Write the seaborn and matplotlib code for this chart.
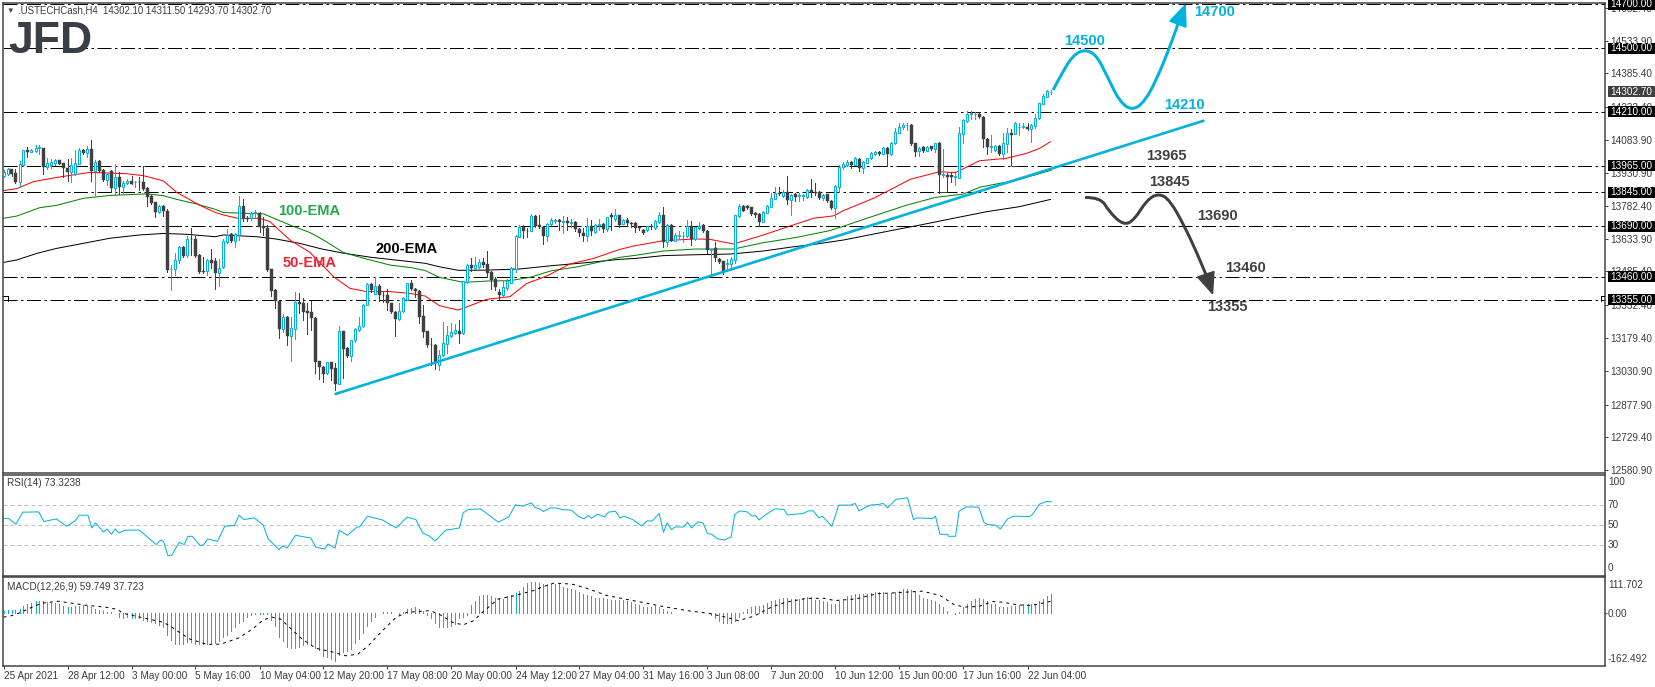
import numpy as np
import seaborn as sns
import matplotlib
matplotlib.use('Agg')
import matplotlib.pyplot as plt
from matplotlib.path import Path
from matplotlib.patches import PathPatch, Rectangle

# OHLC candles
open_ = [13919,13928,13949,13931,13893,13969,14035,14029,14034,14046,
14046,13961,13969,13976,13990,13978,13955,13938,13928,13973,
14037,14025,14041,13943,13985,13946,13902,13943,13865,13914,
13870,13888,13894,13890,13891,13891,13862,13829,13800,13755,
13782,13759,13493,13493,13538,13595,13557,13633,13632,13559,
13484,13484,13534,13533,13479,13503,13620,13655,13624,13650,
13782,13726,13726,13749,13752,13691,13680,13494,13400,13351,
13222,13278,13192,13224,13343,13339,13304,13299,13272,13075,
13047,13020,13070,13043,12973,13213,13135,13101,13172,13217,
13234,13333,13427,13381,13416,13377,13377,13339,13299,13269,
13302,13356,13431,13406,13394,13281,13211,13150,13150,13059,
13103,13153,13190,13203,13211,13202,13434,13511,13499,13505,
13527,13516,13480,13448,13390,13376,13408,13433,13493,13642,
13684,13669,13669,13736,13694,13688,13647,13700,13715,13718,
13709,13713,13706,13709,13678,13660,13647,13691,13665,13694,
13700,13677,13742,13721,13739,13701,13718,13706,13703,13685,
13673,13671,13692,13683,13709,13741,13618,13696,13624,13647,
13645,13647,13692,13632,13680,13696,13670,13582,13589,13542,
13530,13516,13519,13536,13737,13782,13782,13776,13752,13746,
13711,13752,13779,13815,13840,13829,13846,13809,13837,13828,
13828,13825,13855,13847,13847,13817,13835,13806,13773,13870,
13958,13967,13982,13970,13997,13955,13979,14002,14020,14028,
14020,14047,14019,14067,14116,14140,14149,14152,14067,14031,
14049,14034,14053,14041,14070,13923,13924,13921,13915,13911,
14111,14170,14201,14199,14201,14189,14087,14052,14037,14056,
14020,14064,14114,14111,14140,14140,14143,14131,14148,14181,
14246,14280,14302.1]
close_ = [13937,13952,13928,13891,13973,14035,14029,14037,14046,14049,
13961,13978,13982,13990,13973,13953,13937,13969,13978,14037,
14025,14041,13943,13982,13941,13900,13929,13865,13914,13870,
13887,13896,13884,13891,13890,13859,13824,13796,13755,13782,
13758,13490,13495,13536,13595,13556,13632,13630,13554,13483,
13483,13534,13522,13479,13498,13623,13650,13623,13655,13782,
13726,13724,13749,13755,13688,13680,13491,13395,13350,13220,
13278,13192,13225,13343,13336,13301,13296,13271,13072,13047,
13019,13070,13040,12972,13211,13132,13101,13170,13224,13236,
13333,13427,13400,13416,13375,13375,13339,13301,13269,13304,
13365,13431,13406,13394,13278,13210,13150,13149,13065,13102,
13156,13194,13206,13215,13200,13439,13511,13498,13511,13527,
13513,13478,13445,13414,13376,13411,13439,13498,13645,13684,
13669,13668,13736,13691,13688,13647,13700,13718,13718,13709,
13713,13703,13709,13675,13657,13647,13692,13666,13694,13700,
13678,13730,13730,13739,13695,13716,13706,13700,13683,13680,
13661,13691,13685,13714,13741,13620,13696,13624,13648,13648,
13647,13691,13633,13685,13692,13668,13582,13586,13544,13527,
13483,13524,13539,13740,13782,13761,13774,13744,13741,13711,
13755,13782,13818,13840,13837,13846,13809,13832,13825,13832,
13832,13855,13847,13843,13818,13831,13803,13774,13873,13961,
13973,13981,13967,14000,13955,13982,13999,14023,14029,14019,
14047,14019,14070,14119,14140,14149,14152,14064,14029,14047,
14031,14050,14040,14067,13923,13927,13915,13915,13918,14113,
14172,14201,14204,14201,14187,14085,14052,14055,14055,14019,
14067,14113,14107,14158,14143,14146,14134,14151,14182,14249,
14283,14305,14302.7]
high_ = [13946,13956,13952,13949,13988,14037,14052,14043,14061,14058,
14048,13999,13997,13996,13991,13979,13997,13999,14037,14045,
14041,14055,14082,13991,13991,13949,13934,13946,13973,13937,
13897,13903,13920,13897,13915,13964,13867,13830,13802,13785,
13788,13767,13513,13569,13598,13598,13645,13680,13645,13563,
13551,13539,13584,13544,13542,13630,13676,13661,13661,13828,
13813,13737,13755,13764,13753,13734,13697,13497,13403,13354,
13290,13281,13278,13390,13387,13365,13342,13351,13275,13076,
13053,13073,13073,13069,13236,13214,13138,13172,13225,13275,
13336,13430,13433,13457,13425,13390,13403,13342,13302,13339,
13366,13433,13445,13410,13400,13331,13214,13179,13153,13126,
13253,13235,13250,13244,13263,13440,13516,13546,13551,13539,
13545,13577,13487,13460,13402,13445,13448,13502,13648,13695,
13697,13681,13744,13739,13741,13691,13706,13726,13724,13721,
13736,13733,13721,13715,13681,13680,13726,13718,13700,13721,
13706,13733,13748,13766,13742,13721,13726,13709,13711,13688,
13676,13692,13700,13718,13753,13779,13699,13699,13658,13668,
13665,13718,13715,13688,13711,13699,13673,13588,13620,13545,
13533,13539,13548,13741,13791,13785,13787,13779,13756,13749,
13758,13787,13840,13867,13867,13855,13919,13837,13840,13840,
13837,13858,13907,13885,13850,13835,13838,13809,13876,13970,
13984,13991,13985,14003,14000,13985,14002,14026,14034,14031,
14050,14052,14073,14135,14158,14158,14161,14155,14070,14052,
14055,14053,14056,14070,14073,14040,13934,13937,13934,14140,
14176,14213,14213,14210,14211,14192,14090,14105,14060,14060,
14113,14135,14131,14163,14158,14161,14161,14155,14201,14252,
14290,14310,14311.5]
low_ = [13915,13923,13919,13888,13873,13967,14004,14029,14026,14019,
13928,13949,13953,13970,13972,13912,13896,13893,13923,13972,
14019,14007,13897,13833,13938,13897,13878,13847,13835,13835,
13840,13882,13881,13867,13855,13856,13782,13791,13733,13748,
13736,13481,13399,13468,13524,13551,13548,13557,13551,13478,
13475,13466,13501,13403,13419,13498,13612,13620,13597,13627,
13715,13715,13718,13726,13664,13650,13488,13372,13316,13183,
13210,13149,13076,13176,13296,13263,13198,13217,13020,12993,
12982,13017,12990,12944,12972,12997,13096,13076,13164,13214,
13230,13330,13392,13380,13351,13345,13308,13296,13192,13263,
13298,13354,13400,13369,13248,13187,13141,13058,13038,13035,
13099,13114,13187,13199,13156,13199,13433,13486,13496,13499,
13505,13457,13404,13399,13358,13369,13399,13429,13481,13639,
13636,13639,13668,13685,13680,13610,13624,13695,13703,13672,
13660,13672,13685,13669,13645,13624,13624,13650,13657,13672,
13665,13669,13672,13715,13688,13698,13691,13685,13664,13673,
13655,13668,13677,13679,13703,13594,13600,13621,13621,13635,
13620,13642,13604,13627,13676,13665,13570,13468,13532,13521,
13472,13491,13498,13524,13733,13758,13770,13740,13733,13691,
13708,13749,13776,13812,13832,13825,13791,13743,13806,13806,
13809,13818,13825,13832,13815,13809,13800,13767,13729,13846,
13952,13964,13955,13967,13943,13934,13976,13997,14012,14016,
14017,13964,14016,14064,14113,14131,14128,14058,14009,14009,
14028,14031,14037,14028,13839,13912,13849,13891,13879,13909,
14070,14166,14176,14179,14182,14049,14017,14028,14032,14016,
13994,14028,13967,14108,14105,14135,14128,14075,14135,14176,
14245,14278,14293.7]

# moving averages (bar index, price)
ema50_x = [0,3.3,7.5,13.3,21.6,30.8,35,40,43.3,49,52.9,55,59,64,66.6,71.6,76.6,82.5,86.6,90.8,96.6,101.6,105.4,
           109,113.7,120.8,126.6,130.8,135.8,141.6,147.5,154,157.9,165,173,176.6,182.5,190,197.5,202.5,207.5,
           210,217.5,221.6,226.6,234,238,244,250.7,255.8,259,261.8]
ema50_y = [13852,13861,13893,13912,13935,13929,13920,13896,13844,13786,13753,13741,13724,13726,13711,13627,13571,13460,13407,13392,13392,13384,13372,
           13328,13308,13357,13369,13429,13463,13518,13543,13584,13601,13624,13632,13630,13609,13650,13696,13726,13737,
           13761,13817,13855,13903,13938,13934,13988,13999,14022,14044,14075]
ema100_x = [0,3.3,9,13.3,20,26.6,35.8,40,43.3,48.3,52.9,55,65,67.6,72.6,76.6,80,85,90,96.6,102,105.4,
            109,115,120.8,126.6,131.6,137,143.5,149.3,154,157.9,165,173,182.5,190,198,206.6,210,
            217.5,225.8,233,239.9,244,249,252,262]
ema100_y = [13726,13736,13774,13785,13817,13830,13837,13829,13812,13791,13767,13752,13746,13726,13688,13661,13627,13570,13544,13513,13501,13488,
            13457,13434,13440,13442,13457,13487,13505,13528,13548,13557,13577,13586,13586,13615,13638,13670,13690,
            13736,13786,13821,13836,13867,13885,13893,13945]
ema200_x = [0,3.3,8.3,13.3,20,26.6,34,40,45.8,52.9,55,63.3,68,74,79.6,85,92,98,105.4,
            109,113.7,120.8,129,137,145.8,154,157.9,165,173,181.6,190,196.6,203.3,210,
            223.3,229.1,237.5,245.8,254,261.8]
ema200_y = [13525,13536,13566,13589,13612,13635,13650,13657,13653,13642,13650,13642,13632,13612,13586,13567,13548,13536,13521,
            13505,13489,13490,13495,13510,13524,13539,13543,13556,13560,13563,13577,13594,13609,13627,
            13675,13695,13726,13756,13779,13812]

levels = [14700, 14500, 14210, 13965, 13845, 13690, 13460, 13355]
last_price = 14302.70
main_ticks = [14682.40,14533.90,14385.40,14233.40,14083.90,13930.90,13782.40,13633.90,13485.40,13332.40,
              13179.40,13030.90,12877.90,12729.40,12580.90]

# forecast drawings and support line
trend_x = [83, 300]
trend_y = [12926, 14170]
up_x = [262.4,264.8,267.5,270.3,273.2,275.8,279,282.2,285.3,288.4,291.6,293.6]
up_y = [14310,14394,14470,14495,14470,14378,14257,14216,14257,14363,14507,14610]
up_tip = (295.6, 14705)
down_x = [270.4,274.3,276.4,280,282.7,285.8,288.8,291.6,295.3,298.4,300.6]
down_y = [13821,13821,13756,13694,13718,13809,13840,13809,13688,13566,13470]
down_tip = (302.4, 13375)
level_stubs = [(234, 236, 13845), (252, 253.5, 13965), (65, 67.5, 13690)]

# RSI(14)
rsi_x = [0,1.3,3.1,4.8,8.8,10.1,13.2,15.8,18,18.9,21.1,22.1,23,25,25.9,27,27.9,28.9,30.3,33.9,38.2,39.3,40,41.1,42.1,43.9,45.2,46.1,47.2,49.1,50,51,53.5,55.3,57.7,58.9,60.1,62.7,64.9,66.2,68.9,69.7,70.9,73,76.8,78.1,80.3,81.1,82.9,83.9,86,88.4,89,91,94.7,98.2,100.9,103.1,104.8,106.6,107.9,110.5,114,114.9,116.2,119.3,123.7,126.3,128,129.8,132,132.9,
         134.1,135,136.7,138.5,139.4,142,143.7,145.1,146.2,147,148.6,150.3,151.2,153,154.1,155.2,157.3,159.5,160.9,162.2,163.9,165,165.9,167,167.9,170.1,171,172,173.6,174.9,176,177.1,178.4,180.2,181.9,182.8,184.1,185.9,187.2,188,188.9,190.7,192.9,195.1,196,199.9,201.2,202.5,203.8,204.7,207.1,208.8,211.7,212.9,213.9,216.6,218.8,219.9,221,223.1,226,227.5,228.4,232.3,233,234.1,235.9,236.3,238,238.9,240.7,243.8,245.1,246,248.1,249.2,251,252.5,256.5,257.3,259,260.8,262]
rsi_y = [56.7,56.7,51,63,63.3,53.7,56.3,49,54.7,60,60,47.3,52.3,43.3,46.3,41,46.3,42.3,45,45.3,30.7,35.3,34,19.7,20.3,33,30.7,39,39,30,30.3,36.3,34,49,49.7,60,55.7,57.3,50.3,36.3,25.7,29.7,27.3,40,37.3,28.3,26.3,31.3,27.3,45,40,48.3,48.3,59,55.3,47.3,58,55.7,42.3,39,34.3,45,47.3,62.3,65.7,66.3,53,58.3,70.3,69,72.3,67.7,
         66.3,63.7,67.3,67,65.7,65,59,56.3,59.7,57,61,58.3,63,64,57.3,59,55.7,49.3,54.3,54.3,61.7,43,52.3,45.7,48.3,48.3,53,47.3,53.3,52.3,41.7,41,36.7,35.3,38.3,60.7,64.3,63.3,59,59.7,55.3,61,66.3,65.7,60.3,61.7,64.3,64.3,57.3,59,49,70,70,71.7,64.3,70,70.7,71.7,67.3,75.7,77.3,55.7,57.3,56.7,59,41,41,39,39,64,68.3,68,53,50.7,50,46.3,56.3,59,58.7,61,71,73.7,73.3]
rsi_levels = [70, 50, 30]

# MACD(12,26,9)
macd_hist = [6,10,10,10,14,21,29,33,37,39,
37,35,33,31,27,21,19,19,21,23,
25,23,19,12,10,6,4,3,2,-10,
-14,-12,-14,-14,-16,-21,-23,-27,-31,-37,
-41,-68,-82,-95,-95,-95,-89,-89,-95,-95,
-95,-95,-93,-91,-84,-72,-68,-54,-43,-31,
-23,-12,-6,-2,-2,-2,-2,-21,-39,-72,
-87,-103,-108,-108,-103,-98,-95,-98,-108,-113,
-132,-136,-140,-146,-129,-118,-115,-109,-93,-80,
-60,-39,-25,-10,0,4,4,4,2,-2,
5,14,16,19,12,8,-4,-16,-31,-41,
-41,-41,-39,-33,-16,-12,-4,25,39,52,
56,57,54,47,43,43,52,56,62,70,
80,93,97,97,93,
91,91,89,91,91,82,78,76,72,66,
58,56,52,47,47,47,43,41,41,41,
41,37,35,29,25,19,19,19,21,19,
12,8,4,2,2,0,2,0,2,2,
2,2,-4,-16,-23,-29,-31,-31,-25,-12,
4,12,19,21,21,25,31,37,41,43,
47,47,45,43,45,47,49,49,41,41,
39,35,29,29,37,45,52,56,58,58,
58,60,62,64,64,64,60,62,64,70,
74,76,72,64,56,47,45,41,39,27,
19,8,0,-3,5,19,29,37,45,47,
45,37,29,27,19,19,19,21,23,25,
27,27,27,27,37,45,52,58]
signal_x = [0,2.2,4.4,7,9.6,13.6,17.1,21,25.4,28.5,29.8,34.2,40,42.1,43.9,46.5,50.9,54.4,58.8,62.3,64.9,67.1,69.3,71.9,74.6,78.1,82.5,85.5,88.6,91.2,94.7,98.2,100.9,106.6,108.8,112.3,114.9,117.5,120.2,123.7,128,132.5,
            134.5,137.6,142,145.5,150.8,155.2,158.7,164.8,171,176.2,180.6,183.7,187.6,192,195.5,200.8,205.2,207.8,213,218.3,222.7,229.7,234.1,237.6,240.2,243.8,247.3,249.9,253.4,256.9,260.9,262]
signal_y = [-12,-7,3,18,31,37,31,24,19,12,0,-12,-28,-43,-58,-79,-96,-95,-76,-48,-21,-12,-18,-48,-79,-108,-120,-131,-126,-100,-54,-12,3,8,-2,-28,-36,-23,8,44,55,70,
            80,93,90,78,55,44,36,21,8,0,-12,-23,-9,19,34,46,46,39,44,60,63,68,55,27,19,21,36,34,26,24,34,37.7]

date_labels = ['25 Apr 2021','28 Apr 12:00','3 May 00:00','5 May 16:00','10 May 04:00','12 May 20:00','17 May 08:00',
               '20 May 00:00','24 May 12:00','27 May 04:00','31 May 16:00','3 Jun 08:00','7 Jun 20:00','10 Jun 12:00',
               '15 Jun 00:00','17 Jun 16:00','22 Jun 04:00']

W, H = 1655, 687
CYAN = '#00B2DE'
DARK = '#404040'
TXT = '#3c3c3c'
PX = 0.72   # one pixel in points at dpi 100

sns.set_style('white')
plt.rcParams['font.family'] = ['Liberation Sans', 'DejaVu Sans']


def panel(top, bottom, left=3, right=1605):
    ax = fig.add_axes([left / W, 1 - bottom / H, (right - left) / W, (bottom - top) / H])
    ax.set_xlim(-0.125, 400.375)
    for s in ax.spines.values():
        s.set_color(DARK)
        s.set_linewidth(1.5 * PX)
    ax.set_xticks([])
    ax.set_yticks([])
    return ax


def label(x, y, s, **kw):
    kw.setdefault('color', TXT)
    kw.setdefault('fontsize', 7.2)
    kw.setdefault('va', 'center')
    fig.text(x / W, 1 - y / H, s, **kw)


def line(ax, x, y, color, lw=1.0, **kw):
    sns.lineplot(x=x, y=y, ax=ax, color=color, linewidth=lw * PX, estimator=None, sort=False, legend=False, **kw)


def forecast(ax, xs, ys, tip, color):
    # smooth freehand curve: read points act as quadratic control points
    verts = [(xs[0], ys[0])]
    codes = [Path.MOVETO]
    for k in range(1, len(xs) - 1):
        verts += [(xs[k], ys[k]), ((xs[k] + xs[k + 1]) / 2, (ys[k] + ys[k + 1]) / 2)]
        codes += [Path.CURVE3, Path.CURVE3]
    verts.append((xs[-1], ys[-1]))
    codes.append(Path.LINETO)
    ax.add_patch(PathPatch(Path(verts, codes), fill=False, edgecolor=color, linewidth=3 * PX, zorder=6, capstyle='butt'))
    ax.annotate('', xy=tip, xytext=(xs[-1], ys[-1]), zorder=6, annotation_clip=False,
                arrowprops=dict(arrowstyle='-|>,head_length=1.0,head_width=0.42', color=color, lw=2 * PX,
                                mutation_scale=14, shrinkA=0, shrinkB=0))


fig = plt.figure(figsize=(W / 100, H / 100), dpi=100)

# main price panel
ax = panel(2.5, 472.7)
ax.set_ylim(12567.4, 14708.6)
bars = np.arange(len(open_))
o, c, h, l = map(np.array, (open_, close_, high_, low_))
up = c >= o

for lev in levels:
    ax.axhline(lev, color='black', lw=PX, ls=(0, (14, 3.5, 2.5, 3.5)), zorder=1)
for x0, x1, lev in level_stubs:
    ax.hlines(lev, x0, x1, color=DARK, lw=PX, zorder=3)
# small notches the terminal leaves on the 13355 level at both chart edges
ax.plot([-0.125, 1, 1], [13370, 13370, 13350], color='black', lw=PX, zorder=3)
ax.plot([399.3, 400.375], [13370, 13370], color='black', lw=PX, zorder=3)
ax.plot([399.3, 399.3], [13370, 13350], color='black', lw=PX, zorder=3)

line(ax, ema200_x, ema200_y, 'black', zorder=2)
line(ax, ema100_x, ema100_y, '#008000', zorder=2)
line(ax, ema50_x, ema50_y, '#FF0000', zorder=2)

ax.vlines(bars[up], l[up], h[up], color=CYAN, lw=PX, zorder=3, antialiased=False)
ax.vlines(bars[~up], l[~up], h[~up], color=DARK, lw=PX, zorder=3, antialiased=False)
ax.bar(bars[up], (c - o)[up], bottom=o[up], width=0.5, facecolor='white', edgecolor=CYAN, linewidth=PX, zorder=4)
ax.bar(bars[~up], (o - c)[~up], bottom=c[~up], width=0.7, facecolor=DARK, edgecolor=DARK, linewidth=0.3, zorder=4)

line(ax, trend_x, trend_y, CYAN, lw=2.6, zorder=5)
forecast(ax, up_x, up_y, up_tip, CYAN)
forecast(ax, down_x, down_y, down_tip, DARK)

ax.yaxis.tick_right()
ax.set_yticks(main_ticks)
ax.set_yticklabels([f'{t:.2f}' for t in main_ticks], fontsize=7.2, color=TXT)
ax.tick_params(axis='y', length=2.2, width=PX, color=DARK, pad=1.5, right=True)

# price tags on the right
for lev in levels:
    y = 48.3 + (14500 - lev) * 0.2196
    fig.add_artist(Rectangle((1608 / W, 1 - (y + 5.5) / H), 47 / W, 11 / H, transform=fig.transFigure,
                             facecolor='black', edgecolor='none', zorder=5))
    label(1610, y, f'{lev:.2f}', color='white', zorder=6)
y = 48.3 + (14500 - last_price) * 0.2196
fig.add_artist(Rectangle((1608 / W, 1 - (y + 5.5) / H), 47 / W, 11 / H, transform=fig.transFigure,
                         facecolor=DARK, edgecolor='none', zorder=5))
label(1610, y, f'{last_price:.2f}', color='white', zorder=6)

# RSI panel
ax2 = panel(475, 575.5)
ax2.set_ylim(0, 100)
for lev in rsi_levels:
    ax2.axhline(lev, color='#c0c0c0', lw=PX, ls=(0, (4, 3)))
line(ax2, rsi_x, rsi_y, CYAN)

# MACD panel
ax3 = panel(577, 666)
ax3.set_ylim(-162.492, 111.702)
ax3.vlines(bars, 0, macd_hist, color=CYAN, lw=PX, antialiased=False)
line(ax3, signal_x, signal_y, 'black', linestyle=(0, (3, 4)))
ax3.set_xticks(bars[::16])
ax3.set_xticklabels(date_labels, fontsize=7.2, color=TXT, ha='left')
ax3.tick_params(axis='x', length=2.5, width=PX, color=DARK, pad=1.2, bottom=True)
ax3.yaxis.tick_right()
ax3.set_yticks([0])
ax3.set_yticklabels([''])
ax3.tick_params(axis='y', length=1.5, width=PX, color=DARK, right=True)

for a in (ax, ax2, ax3):
    a.set(xlabel='', ylabel='')

for s, y in zip(['100', '70', '50', '30', '0'], [481.7, 505.3, 525.3, 545.3, 568]):
    label(1608, y, s)
for s, y in zip(['111.702', '0.00', '-162.492'], [584.5, 614, 659.5]):
    label(1608, y, s)

# header and indicator captions
fig.text(6 / W, 1 - 11 / H, '\u25bc', fontsize=5.5, color=DARK, va='center')
label(18, 10.7, '.USTECHCash,H4  14302.10 14311.50 14293.70 14302.70', fontsize=6.9)
label(7, 483, 'RSI(14) 73.3238')
label(7, 587, 'MACD(12,26,9) 59.749 37.723')

# broker logo
label(8, 53, 'JFD', fontsize=32, fontweight='bold', color='#3a3f47', va='baseline', family='Liberation Sans')

# annotations on the chart
for s, x, y, col in [('14700', 1215, 12, CYAN), ('14500', 1085, 41, CYAN), ('14210', 1184, 105, CYAN),
                     ('13965', 1166, 156, DARK), ('13845', 1169, 182, DARK), ('13690', 1217, 216, DARK),
                     ('13460', 1246, 268, DARK), ('13355', 1227, 307, DARK),
                     ('100-EMA', 309, 211, '#22AB4A'), ('200-EMA', 407, 249, 'black'), ('50-EMA', 310, 263, '#EE2233')]:
    label(x, y, s, color=col, fontsize=10.5, fontweight='bold', ha='center', zorder=7)

fig.savefig('out.png', dpi=100)
